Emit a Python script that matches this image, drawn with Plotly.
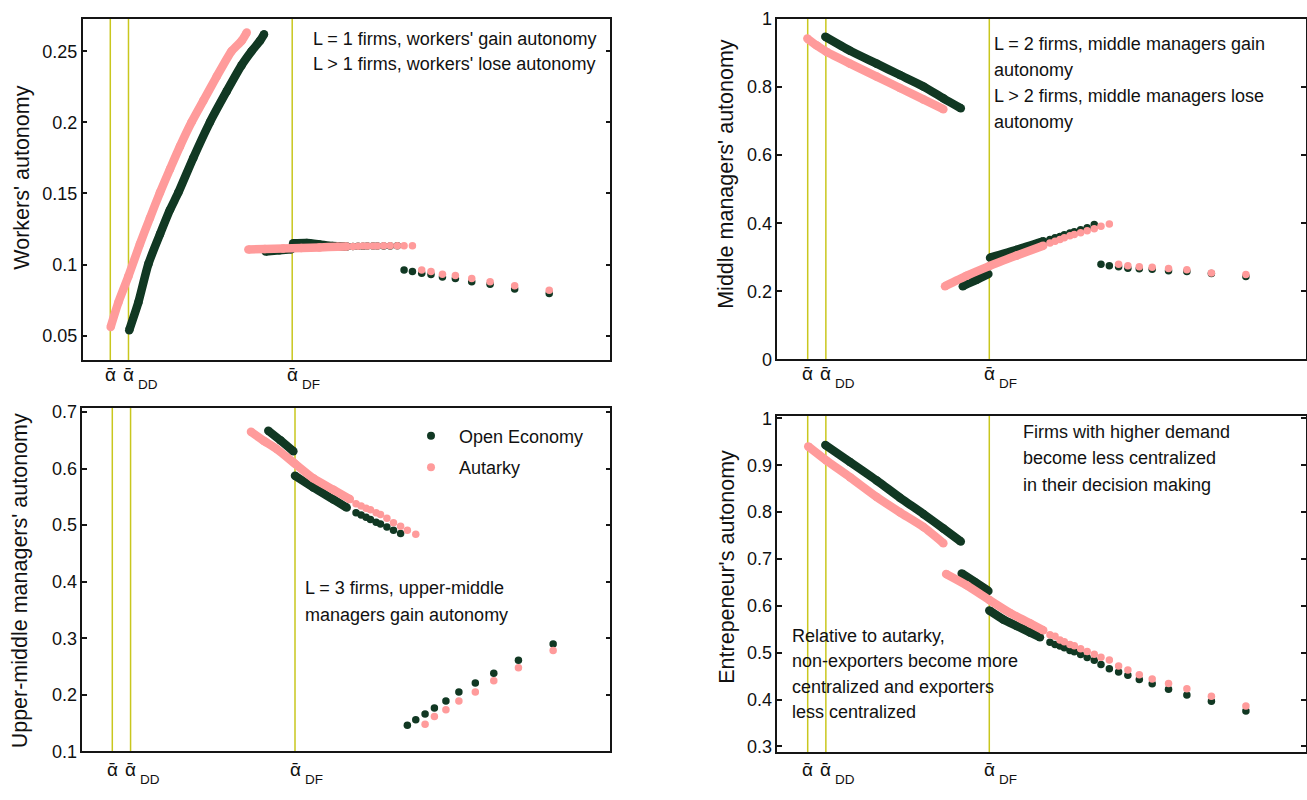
import plotly.graph_objects as go

# ---------------- data ----------------
ALPHA_BAR, ALPHA_DD, ALPHA_DF = 1.0, 1.1, 2.0
ALPHA_TICK_VALUES = [ALPHA_BAR, ALPHA_DD, ALPHA_DF]
ALPHA_SUBSCRIPTS = ["", "DD", "DF"]

# firm positions where individual markers become visible
MID_ALPHA = [2.334, 2.362, 2.389, 2.413, 2.444, 2.468, 2.503, 2.539, 2.578]
MID_END_ALPHA = [2.615, 2.661]          # autarky L-regime continues two more firms
TAIL_ALPHA = [2.615, 2.661, 2.712, 2.763, 2.826, 2.897, 2.987, 3.088, 3.223, 3.413]

SERIES_NAMES = ["Open Economy", "Autarky"]

# Panel 1: workers' autonomy
W_AUT_L1_ALPHA = [1.002, 1.044, 1.099, 1.163, 1.218, 1.273, 1.328, 1.383, 1.447, 1.511, 1.585, 1.667, 1.722, 1.750]
W_AUT_L1 = [0.0562, 0.0733, 0.0916, 0.1145, 0.1328, 0.1506, 0.1671, 0.1831, 0.2002, 0.2151, 0.2322, 0.2501, 0.2573, 0.2631]
W_OPEN_L1_ALPHA = [1.104, 1.154, 1.209, 1.273, 1.328, 1.374, 1.456, 1.548, 1.640, 1.722, 1.777, 1.823, 1.845]
W_OPEN_L1 = [0.0539, 0.0733, 0.1003, 0.1213, 0.1385, 0.1506, 0.1750, 0.2002, 0.2219, 0.2402, 0.2501, 0.2573, 0.2619]
W_AUT_L2_ALPHA = [1.759, 1.85, 1.95, 2.05, 2.15, 2.25, 2.30]
W_AUT_L2 = [0.1106, 0.1109, 0.1113, 0.1117, 0.1121, 0.1125, 0.1127]
W_AUT_L2_MID = [0.1128, 0.1129, 0.1130, 0.1130, 0.1131, 0.1131, 0.1132, 0.1132, 0.1133, 0.1133, 0.1133]
W_OPEN_L2_PRE_ALPHA = [1.854, 1.93, 1.995]
W_OPEN_L2_PRE = [0.1092, 0.1100, 0.1107]
W_OPEN_L2_POST_ALPHA = [2.005, 2.08, 2.15, 2.22, 2.30]
W_OPEN_L2_POST = [0.1150, 0.1152, 0.1142, 0.1130, 0.1128]
W_OPEN_L2_MID = [0.1128, 0.1129, 0.1129, 0.1130, 0.1130, 0.1131, 0.1131, 0.1131, 0.1132]
W_OPEN_TAIL = [0.0962, 0.0951, 0.0939, 0.0930, 0.0912, 0.0903, 0.0879, 0.0861, 0.0829, 0.0797]
W_AUT_TAIL = [0.0962, 0.0951, 0.0932, 0.0923, 0.0903, 0.0879, 0.0852, 0.0820]

# Panel 2: middle managers' autonomy
M_AUT_L1_ALPHA = [0.998, 1.05, 1.102, 1.233, 1.380, 1.508, 1.637, 1.747]
M_AUT_L1 = [0.9427, 0.922, 0.9043, 0.869, 0.831, 0.7974, 0.7639, 0.7352]
M_OPEN_L1_ALPHA = [1.097, 1.233, 1.380, 1.508, 1.637, 1.747, 1.843]
M_OPEN_L1 = [0.948, 0.907, 0.869, 0.8355, 0.802, 0.767, 0.738]
M_AUT_L2_ALPHA = [1.756, 1.876, 2.0, 2.151, 2.297]
M_AUT_L2 = [0.215, 0.246, 0.274, 0.305, 0.334]
M_AUT_L2_MID = [0.342, 0.347, 0.352, 0.357, 0.363, 0.367, 0.372, 0.378, 0.384, 0.391, 0.398]
M_OPEN_L2_PRE_ALPHA = [1.854, 1.931, 1.995]
M_OPEN_L2_PRE = [0.215, 0.2338, 0.251]
M_OPEN_L2_POST_ALPHA = [2.004, 2.151, 2.297]
M_OPEN_L2_POST = [0.2989, 0.3218, 0.3467]
M_OPEN_L2_MID = [0.352, 0.357, 0.361, 0.366, 0.371, 0.375, 0.381, 0.387, 0.396]
M_OPEN_TAIL = [0.2797, 0.2750, 0.2720, 0.2680, 0.2660, 0.2650, 0.2607, 0.2579, 0.2520, 0.2436]
M_AUT_TAIL = [0.2797, 0.2750, 0.2720, 0.2710, 0.2673, 0.2636, 0.2539, 0.2493]

# Panel 3: upper-middle managers' autonomy
U_AUT_L2_ALPHA = [1.759, 1.830, 1.900, 2.0, 2.100, 2.210, 2.300]
U_AUT_L2 = [0.665, 0.649, 0.6345, 0.6086, 0.5828, 0.5626, 0.546]
U_AUT_L2_MID = [0.538, 0.534, 0.530, 0.527, 0.522, 0.519, 0.512, 0.504, 0.498, 0.491, 0.484]
U_OPEN_L2_PRE_ALPHA = [1.854, 1.920, 1.991]
U_OPEN_L2_PRE = [0.667, 0.650, 0.6305]
U_OPEN_L2_POST_ALPHA = [2.0, 2.1, 2.21, 2.283]
U_OPEN_L2_POST = [0.5874, 0.5667, 0.5454, 0.531]
U_OPEN_L2_MID = [0.522, 0.518, 0.514, 0.510, 0.505, 0.502, 0.4966, 0.491, 0.485]
U_OPEN_TAIL = [0.146, 0.1557, 0.166, 0.1764, 0.1891, 0.2047, 0.2207, 0.2379, 0.2609, 0.2897]
U_AUT_TAIL = [0.1478, 0.1616, 0.1736, 0.1891, 0.2047, 0.2247, 0.2478, 0.2781]

# Panel 4: entrepreneur's autonomy
E_AUT_L1_ALPHA = [1.003, 1.102, 1.233, 1.380, 1.508, 1.637, 1.747]
E_AUT_L1 = [0.9403, 0.9104, 0.8744, 0.8322, 0.7996, 0.7684, 0.7337]
E_OPEN_L1_ALPHA = [1.097, 1.233, 1.380, 1.508, 1.637, 1.747, 1.843]
E_OPEN_L1 = [0.943, 0.9071, 0.8676, 0.8308, 0.796, 0.7649, 0.7372]
E_AUT_L2_ALPHA = [1.762, 1.876, 2.0, 2.114, 2.224, 2.297]
E_AUT_L2 = [0.668, 0.6437, 0.6125, 0.5848, 0.5626, 0.548]
E_AUT_L2_MID = [0.5383, 0.5349, 0.5272, 0.5231, 0.5175, 0.5148, 0.5085, 0.5023, 0.4967, 0.4904, 0.4842]
E_OPEN_L2_PRE_ALPHA = [1.848, 1.920, 1.995]
E_OPEN_L2_PRE = [0.6692, 0.651, 0.6318]
E_OPEN_L2_POST_ALPHA = [2.0, 2.077, 2.151, 2.224, 2.279]
E_OPEN_L2_POST = [0.5902, 0.5709, 0.557, 0.5432, 0.5328]
E_OPEN_L2_MID = [0.5224, 0.5175, 0.5141, 0.5106, 0.5044, 0.5017, 0.4961, 0.4898, 0.4836]
E_OPEN_TAIL = [0.4746, 0.4655, 0.4586, 0.4518, 0.4426, 0.4337, 0.4218, 0.4094, 0.3963, 0.3755]
E_AUT_TAIL = [0.4717, 0.4628, 0.4530, 0.4440, 0.4343, 0.4227, 0.4067, 0.3859]

# tick labels
Y_TICKS = {
    1: ([0.05, 0.1, 0.15, 0.2, 0.25], ["0.05", "0.1", "0.15", "0.2", "0.25"]),
    2: ([0, 0.2, 0.4, 0.6, 0.8, 1], ["0", "0.2", "0.4", "0.6", "0.8", "1"]),
    3: ([0.1, 0.2, 0.3, 0.4, 0.5, 0.6, 0.7], ["0.1", "0.2", "0.3", "0.4", "0.5", "0.6", "0.7"]),
    4: ([0.3, 0.4, 0.5, 0.6, 0.7, 0.8, 0.9, 1], ["0.3", "0.4", "0.5", "0.6", "0.7", "0.8", "0.9", "1"]),
}
Y_TITLES = {1: "Workers' autonomy", 2: "Middle managers' autonomy",
            3: "Upper-middle managers' autonomy", 4: "Entrepeneur's autonomy"}

NOTES = {
    1: ["L = 1 firms, workers' gain autonomy", "L > 1 firms, workers' lose autonomy"],
    2: ["L = 2 firms, middle managers gain", "autonomy", "L > 2 firms, middle managers lose", "autonomy"],
    3: ["L = 3 firms, upper-middle", "managers gain autonomy"],
    4: ["Firms with higher demand", "become less centralized", "in their decision making"],
    5: ["Relative to autarky,", "non-exporters become more", "centralized and exporters", "less centralized"],
}

# ---------------- styling / layout ----------------
W, H = 1307, 800
DARK = "#113823"
PINK = "#FF9B9B"
VLINE = "#C9C71E"
AXC = "#151515"
FONT = "Arial, Liberation Sans, Helvetica, sans-serif"
MS = 7.5
LW = 8.5

def fx(p):
    return p / W

def fy(p):
    return 1 - p / H

# pixel boxes of the four panels: (left, right, top, bottom)
BOX = {1: (82.6, 610.3, 9.3, 359.3), 2: (777.3, 1305.5, 9.3, 358.3),
       3: (82.3, 610.3, 408.3, 760.3), 4: (777.3, 1305.5, 416.0, 761.0)}
XR = {1: [0.8477, 3.7488], 2: [0.8326, 3.7412], 3: [0.8358, 3.7258], 4: [0.8326, 3.7412]}
YR = {1: [0.0327, 0.2726], 2: [0.0, 1.0], 3: [0.1, 0.707], 4: [0.288, 1.006]}

fig = go.Figure()

def ax(n):
    return ("x" if n == 1 else f"x{n}"), ("y" if n == 1 else f"y{n}")

def dense(n, a, v, color):
    xa, ya = ax(n)
    fig.add_trace(go.Scatter(x=a, y=v, mode="lines+markers", xaxis=xa, yaxis=ya,
                             line=dict(color=color, width=LW, shape="spline", smoothing=0.6),
                             marker=dict(color=color, size=LW),
                             showlegend=False, hoverinfo="skip"))

def dots(n, a, v, color):
    xa, ya = ax(n)
    fig.add_trace(go.Scatter(x=a, y=v, mode="markers", xaxis=xa, yaxis=ya,
                             marker=dict(color=color, size=MS),
                             showlegend=False, hoverinfo="skip"))

# Panel 1
dense(1, W_OPEN_L1_ALPHA, W_OPEN_L1, DARK)
dense(1, W_OPEN_L2_PRE_ALPHA, W_OPEN_L2_PRE, DARK)
dense(1, W_OPEN_L2_POST_ALPHA, W_OPEN_L2_POST, DARK)
dots(1, MID_ALPHA, W_OPEN_L2_MID, DARK)
dots(1, TAIL_ALPHA, W_OPEN_TAIL, DARK)
dense(1, W_AUT_L1_ALPHA, W_AUT_L1, PINK)
dense(1, W_AUT_L2_ALPHA, W_AUT_L2, PINK)
dots(1, MID_ALPHA + MID_END_ALPHA, W_AUT_L2_MID, PINK)
dots(1, TAIL_ALPHA[2:], W_AUT_TAIL, PINK)

# Panel 2
dense(2, M_OPEN_L1_ALPHA, M_OPEN_L1, DARK)
dense(2, M_OPEN_L2_PRE_ALPHA, M_OPEN_L2_PRE, DARK)
dense(2, M_OPEN_L2_POST_ALPHA, M_OPEN_L2_POST, DARK)
dots(2, MID_ALPHA, M_OPEN_L2_MID, DARK)
dots(2, TAIL_ALPHA, M_OPEN_TAIL, DARK)
dense(2, M_AUT_L1_ALPHA, M_AUT_L1, PINK)
dense(2, M_AUT_L2_ALPHA, M_AUT_L2, PINK)
dots(2, MID_ALPHA + MID_END_ALPHA, M_AUT_L2_MID, PINK)
dots(2, TAIL_ALPHA[2:], M_AUT_TAIL, PINK)

# Panel 3
dense(3, U_OPEN_L2_PRE_ALPHA, U_OPEN_L2_PRE, DARK)
dense(3, U_OPEN_L2_POST_ALPHA, U_OPEN_L2_POST, DARK)
dots(3, MID_ALPHA, U_OPEN_L2_MID, DARK)
dots(3, TAIL_ALPHA, U_OPEN_TAIL, DARK)
dense(3, U_AUT_L2_ALPHA, U_AUT_L2, PINK)
dots(3, MID_ALPHA + MID_END_ALPHA, U_AUT_L2_MID, PINK)
dots(3, TAIL_ALPHA[2:], U_AUT_TAIL, PINK)

# Panel 4
dense(4, E_OPEN_L1_ALPHA, E_OPEN_L1, DARK)
dense(4, E_OPEN_L2_PRE_ALPHA, E_OPEN_L2_PRE, DARK)
dense(4, E_OPEN_L2_POST_ALPHA, E_OPEN_L2_POST, DARK)
dots(4, MID_ALPHA, E_OPEN_L2_MID, DARK)
dots(4, TAIL_ALPHA, E_OPEN_TAIL, DARK)
dense(4, E_AUT_L1_ALPHA, E_AUT_L1, PINK)
dense(4, E_AUT_L2_ALPHA, E_AUT_L2, PINK)
dots(4, MID_ALPHA + MID_END_ALPHA, E_AUT_L2_MID, PINK)
dots(4, TAIL_ALPHA[2:], E_AUT_TAIL, PINK)

# legend entries (placed in panel 3)
for name, col, grp in [(SERIES_NAMES[0], DARK, "a"), (SERIES_NAMES[1], PINK, "b")]:
    fig.add_trace(go.Scatter(x=[None], y=[None], mode="markers", name=name,
                             xaxis="x3", yaxis="y3", legendgroup=grp,
                             marker=dict(color=col, size=8)))

layout = dict(width=W, height=H, autosize=False, margin=dict(l=0, r=0, t=0, b=0),
              paper_bgcolor="white", plot_bgcolor="white",
              font=dict(family=FONT, size=18, color="#111111"),
              showlegend=True,
              legend=dict(x=fx(403), y=fy(418), xanchor="left", yanchor="top",
                          bgcolor="rgba(0,0,0,0)", font=dict(size=18, family=FONT),
                          itemwidth=46, tracegroupgap=5))

shapes, annotations = [], []
for n in (1, 2, 3, 4):
    l, r, t, b = BOX[n]
    xs = "" if n == 1 else str(n)
    layout[f"xaxis{xs}"] = dict(domain=[fx(l), fx(r)], range=XR[n], anchor=f"y{xs}",
                                showline=True, linecolor=AXC, linewidth=1.5, mirror=True,
                                ticks="", showticklabels=False, showgrid=False, zeroline=False,
                                fixedrange=True)
    tv, tt = Y_TICKS[n]
    layout[f"yaxis{xs}"] = dict(domain=[fy(b), fy(t)], range=YR[n], anchor=f"x{xs}",
                                showline=True, linecolor=AXC, linewidth=1.5, mirror="ticks",
                                ticks="inside", ticklen=5, tickwidth=1.5, tickcolor=AXC,
                                tickmode="array", tickvals=tv, ticktext=tt,
                                tickfont=dict(size=18, family=FONT, color="#111111"),
                                showgrid=False, zeroline=False, fixedrange=True)
    for a, sub in zip(ALPHA_TICK_VALUES, ALPHA_SUBSCRIPTS):
        shapes.append(dict(type="line", xref=f"x{xs}", yref=f"y{xs} domain",
                           x0=a, x1=a, y0=0, y1=1, line=dict(color=VLINE, width=1.5),
                           layer="below"))
        ya = -13 if n in (1, 2) else -17
        annotations.append(dict(text="\u1fb1", xref=f"x{xs}", yref=f"y{xs} domain",
                                x=a, y=0, xanchor="center", yanchor="middle",
                                yshift=ya - 1, showarrow=False,
                                font=dict(size=19, family=FONT, color="#111111")))
        if sub:
            annotations.append(dict(text=sub, xref=f"x{xs}", yref=f"y{xs} domain",
                                    x=a, y=0, xanchor="left", yanchor="middle",
                                    xshift=7.5, yshift=ya - 11, showarrow=False,
                                    font=dict(size=13.5, family=FONT, color="#111111")))

# y-axis titles
TITLE_POS = {1: (22, 172), 2: (726, 168), 3: (20, 586), 4: (727, 571)}
for n, (px, py) in TITLE_POS.items():
    annotations.append(dict(text=Y_TITLES[n], xref="paper", yref="paper", x=fx(px), y=fy(py),
                            xanchor="center", yanchor="middle", textangle=-90, showarrow=False,
                            font=dict(size=21.5, family=FONT, color="#111111")))

# text notes
NOTE_POS = {1: (310.7, 29.5, 26), 2: (992.3, 35, 26.7), 3: (303.3, 593.3, 26.7),
            4: (1021, 433.3, 26.7), 5: (790.3, 641.7, 26.1)}
for k, (px, py, dy) in NOTE_POS.items():
    for i, line in enumerate(NOTES[k]):
        annotations.append(dict(text=line, xref="paper", yref="paper", x=fx(px), y=fy(py + i * dy),
                                xanchor="left", yanchor="middle", showarrow=False,
                                font=dict(size=18, family=FONT, color="#111111")))

layout["shapes"] = shapes
layout["annotations"] = annotations
fig.update_layout(**layout)
fig.write_html("out.html", config={"displayModeBar": False},
               post_script="document.body.style.margin='0';document.body.style.padding='0';")
